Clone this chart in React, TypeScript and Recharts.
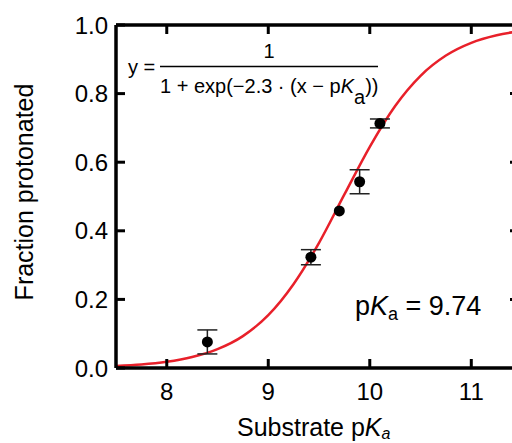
import {
  ComposedChart,
  Line,
  Scatter,
  ErrorBar,
  XAxis,
  YAxis,
  Label,
} from "recharts";

// fitted curve
const curveX = [7.5, 7.75, 8, 8.25, 8.5, 8.75, 9, 9.25, 9.5, 9.75, 10, 10.25, 10.5, 10.75, 11, 11.25, 11.5];
const curveY = [0.006, 0.01, 0.018, 0.032, 0.055, 0.093, 0.154, 0.245, 0.365, 0.506, 0.645, 0.764, 0.852, 0.911, 0.948, 0.97, 0.983];

// measured points
const pointX = [8.4, 9.42, 9.7, 9.9, 10.1];
const pointY = [0.076, 0.323, 0.458, 0.543, 0.713];
const pointErr = [0.035, 0.022, 0, 0.035, 0.013];

const xTicks = [8, 9, 10, 11];
const yTicks = [0, 0.2, 0.4, 0.6, 0.8, 1.0];
const yInnerTicks = [0.2, 0.4, 0.6, 0.8];

const curve = curveX.map((x, i) => ({ x, y: curveY[i] }));
const points = pointX.map((x, i) => ({ x, y: pointY[i], err: pointErr[i] }));

const FONT = "'Liberation Sans', Arial, Helvetica, sans-serif";
const X_MIN = 7.5;
const X_MAX = 11.47;
const AXIS = { stroke: "#000", strokeWidth: 3.5 };
const TICK_LINE = { stroke: "#000", strokeWidth: 3 };

// plot box (chart is 560 wide, clipped to the 512 window)
const W = 560;
const H = 443;
const PL = 116;
const PR = 519;
const PT = 25;
const PB = 368;

const Dot = (props: any) => (
  <circle cx={props.cx} cy={props.cy} r={5.5} fill="#000" />
);

// inward ticks on the top and right frame, drawn as an overlay
const FrameTicks = () => (
  <svg
    width={512}
    height={443}
    style={{ position: "absolute", left: 0, top: 0, pointerEvents: "none" }}
  >
    {xTicks.map((t) => {
      const px = PL + ((t - X_MIN) / (X_MAX - X_MIN)) * (PR - PL);
      return (
        <line key={`t${t}`} x1={px} x2={px} y1={PT} y2={PT + 9} stroke="#000" strokeWidth={3} />
      );
    })}
    {yInnerTicks.map((t) => {
      const py = PB - t * (PB - PT);
      return (
        <line key={`r${t}`} x1={PR} x2={PR - 9} y1={py} y2={py} stroke="#000" strokeWidth={3} />
      );
    })}
  </svg>
);

const Annotations = () => (
  <g fontFamily={FONT} fill="#000">
    {/* x axis title */}
    <text x={237} y={436} fontSize={25}>
      Substrate p<tspan fontStyle="italic">K</tspan>
      <tspan fontSize={16} fontStyle="italic" dy={3}>a</tspan>
    </text>
    {/* equation */}
    <text x={128} y={74} fontSize={20}>y =</text>
    <text x={269} y={58} fontSize={20} textAnchor="middle">1</text>
    <line x1={160} x2={378} y1={66.5} y2={66.5} stroke="#000" strokeWidth={1.5} />
    <text x={160} y={93} fontSize={20}>
      1 + exp(−2.3 · (x − p<tspan fontStyle="italic">K</tspan>
      <tspan dy={11}>a</tspan>
      <tspan dy={-11}>))</tspan>
    </text>
    {/* pKa value */}
    <text x={355} y={315} fontSize={27}>
      p<tspan fontStyle="italic">K</tspan>
      <tspan fontSize={18} dy={5}>a</tspan>
      <tspan dy={-5}> = 9.74</tspan>
    </text>
  </g>
);

export default function App() {
  return (
    <div
      style={{
        position: "absolute",
        left: 0,
        top: 0,
        width: 512,
        height: 443,
        overflow: "hidden",
        background: "#fff",
      }}
    >
      <ComposedChart
        width={W}
        height={H}
        margin={{ top: PT - 11, right: W - PR - 11, bottom: 0, left: 0 }}
      >
        <XAxis
          dataKey="x"
          type="number"
          domain={[X_MIN, X_MAX]}
          allowDataOverflow
          ticks={xTicks}
          height={H - PB}
          axisLine={AXIS}
          tickLine={TICK_LINE}
          tickSize={-9}
          tickMargin={24}
          tick={{ fontSize: 24, fill: "#000", fontFamily: FONT }}
        >
          <Label content={() => <Annotations />} />
        </XAxis>
        <XAxis
          xAxisId="top"
          dataKey="x"
          orientation="top"
          type="number"
          domain={[X_MIN, X_MAX]}
          allowDataOverflow
          height={11}
          axisLine={AXIS}
          tickLine={false}
          tick={false}
        />
        <YAxis
          type="number"
          domain={[0, 1]}
          ticks={yTicks}
          width={PL}
          axisLine={AXIS}
          tickLine={TICK_LINE}
          tickSize={-9}
          tickMargin={17}
          tickFormatter={(v: number) => v.toFixed(1)}
          tick={{ fontSize: 24, fill: "#000", fontFamily: FONT }}
        >
          <Label
            content={() => (
              <text
                transform="translate(33,192) rotate(-90)"
                textAnchor="middle"
                fontSize={25}
                fontFamily={FONT}
                fill="#000"
              >
                Fraction protonated
              </text>
            )}
          />
        </YAxis>
        <YAxis
          yAxisId="right"
          orientation="right"
          type="number"
          domain={[0, 1]}
          allowDataOverflow
          width={11}
          axisLine={AXIS}
          tickLine={false}
          tick={false}
        />
        <Line
          data={curve}
          dataKey="y"
          xAxisId="top"
          yAxisId="right"
          stroke="none"
          dot={false}
          activeDot={false}
          isAnimationActive={false}
        />
        <Line
          data={curve}
          dataKey="y"
          type="monotone"
          stroke="#e8202a"
          strokeWidth={2.5}
          dot={false}
          activeDot={false}
          isAnimationActive={false}
        />
        <Scatter
          data={points}
          dataKey="y"
          shape={Dot}
          isAnimationActive={false}
        >
          <ErrorBar
            dataKey="err"
            direction="y"
            width={10}
            stroke="#222"
            strokeWidth={1.5}
          />
        </Scatter>
      </ComposedChart>
      <FrameTicks />
    </div>
  );
}
